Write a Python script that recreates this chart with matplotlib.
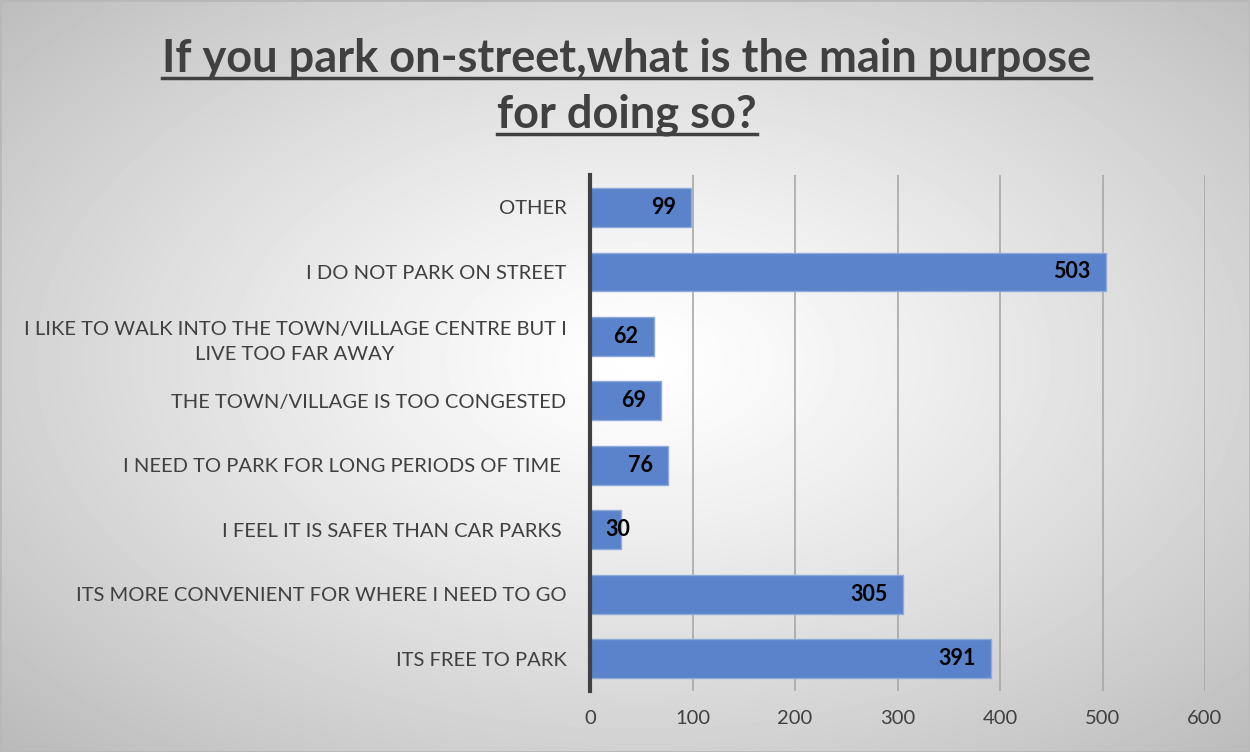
import matplotlib.pyplot as plt
import numpy as np

categories = ["ITS FREE TO PARK",
              "ITS MORE CONVENIENT FOR WHERE I NEED TO GO",
              "I FEEL IT IS SAFER THAN CAR PARKS ",
              "I NEED TO PARK FOR LONG PERIODS OF TIME ",
              "THE TOWN/VILLAGE IS TOO CONGESTED",
              "I LIKE TO WALK INTO THE TOWN/VILLAGE CENTRE BUT I\nLIVE TOO FAR AWAY",
              "I DO NOT PARK ON STREET",
              "OTHER"]
counts = [391, 305, 30, 76, 69, 62, 503, 99]
x_ticks = [0, 100, 200, 300, 400, 500, 600]
title_lines = ["If you park on-street,what is the main purpose", "for doing so?"]

plt.rcParams['font.family'] = ['Lato', 'DejaVu Sans']

fig = plt.figure(figsize=(12.5, 7.52), dpi=100)

# radial grey -> white background
bg = fig.add_axes([0, 0, 1, 1], zorder=0)
yy, xx = np.mgrid[0:752, 0:1250]
r = np.sqrt(((xx - 640) / 640.0) ** 2 + ((yy - 360) / 390.0) ** 2)
shade = np.clip(1 - 0.18 * r ** 1.2, 0, 1)
bg.imshow(shade, cmap='gray', vmin=0, vmax=1, aspect='auto', extent=[0, 1, 0, 1])
bg.plot([0, 1, 1, 0, 0], [0, 0, 1, 1, 0], color='#b8b8b8', lw=2, transform=bg.transAxes)
bg.set_axis_off()

ax = fig.add_axes([0.472, 0.0811, 0.492, 0.686], zorder=1)
ax.set_facecolor('none')
y = np.arange(len(categories))
ax.barh(y, counts, height=0.6, color='#5B83CB', edgecolor='#8EA9DB', lw=1, zorder=3)

ax.set_xlim(0, 600)
ax.set_ylim(-0.5, len(categories) - 0.5)

# value labels: inside end, but never past the axis line
fig.canvas.draw()
renderer = fig.canvas.get_renderer()
x_axis_px = ax.transData.transform((0, 0))[0]
for yi, v in zip(y, counts):
    t = ax.annotate(str(v), (v, yi), xytext=(-15, 0), textcoords='offset pixels',
                    ha='right', va='center', fontsize=15.5, fontweight='bold',
                    color='black', zorder=4)
    bb = t.get_window_extent(renderer)
    if bb.x0 < x_axis_px + 15:
        t.xy = (0, yi)
        t.xyann = (15, 0)
        t.set_ha('left')

ax.set_xticks(x_ticks)
ax.set_yticks(y)
ax.set_yticklabels(categories, multialignment='center', linespacing=1.55)
ax.tick_params(axis='both', length=0, labelsize=14.5, colors='#404040')
ax.tick_params(axis='y', pad=17)
ax.tick_params(axis='x', pad=14)
ax.xaxis.grid(True, color='#a8a8a8', lw=1.2, zorder=0)
for s in ['top', 'right', 'bottom']:
    ax.spines[s].set_visible(False)
ax.spines['left'].set_color('#404040')
ax.spines['left'].set_linewidth(3)
ax.spines['left'].set_zorder(5)

# underlined title
fig.canvas.draw()
for i, line in enumerate(title_lines):
    ty = (752 - 72 - i * 56) / 752.0
    t = fig.text(0.5015, ty, line, ha='center', va='baseline', fontsize=32.5,
                 fontweight='bold', color='#404040', zorder=3)
    bb = t.get_window_extent(renderer)
    uy = ty - 6 / 752.0
    fig.add_artist(plt.Line2D([bb.x0 / 1250.0, bb.x1 / 1250.0], [uy, uy],
                              color='#404040', lw=2.5, transform=fig.transFigure, zorder=3))

fig.savefig('out.png', dpi=100)
